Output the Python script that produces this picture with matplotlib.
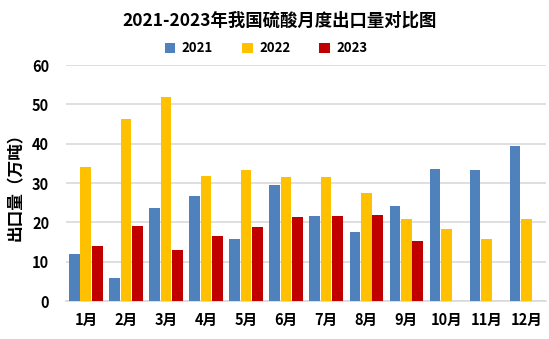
import numpy as np
import matplotlib
matplotlib.use("Agg")
import matplotlib.pyplot as plt

plt.rcParams['font.family'] = ['Noto Sans CJK SC', 'DejaVu Sans']

months = ["1月", "2月", "3月", "4月", "5月", "6月",
          "7月", "8月", "9月", "10月", "11月", "12月"]
v2021 = [12.0, 5.9, 23.7, 26.7, 15.8, 29.5, 21.6, 17.6, 24.2, 33.6, 33.3, 39.5]
v2022 = [34.1, 46.3, 51.9, 31.8, 33.3, 31.6, 31.6, 27.5, 20.9, 18.3, 15.8, 20.9]
v2023 = [14.0, 19.1, 13.0, 16.5, 18.8, 21.4, 21.6, 21.9, 15.3, np.nan, np.nan, np.nan]

fig = plt.figure(figsize=(5.49, 3.39), dpi=100)
ax = fig.add_axes([0.120, 0.112, 0.875, 0.696])

x = np.arange(len(months))
w = 0.27
ax.bar(x - 0.28, v2021, w, color="#4F81BD", label="2021", zorder=3)
ax.bar(x, v2022, w, color="#FFC000", label="2022", zorder=3)
ax.bar(x + 0.28, v2023, w, color="#C00000", label="2023", zorder=3)

ax.set_xlim(-0.5, 11.5)
ax.set_ylim(0, 60)
ax.set_yticks(range(0, 61, 10))
ax.set_xticks(x)
ax.set_xticklabels(months, fontsize=10.5, fontweight="bold")
ax.tick_params(axis="y", labelsize=10.5, length=0, pad=12)
ax.tick_params(axis="x", length=0, pad=8)
for lab in ax.get_yticklabels():
    lab.set_fontweight("bold")
ax.yaxis.grid(True, color="#D9D9D9", linewidth=1.2, zorder=0)
for s in ["top", "right", "left"]:
    ax.spines[s].set_visible(False)
ax.spines["bottom"].set_color("#D9D9D9")
ax.spines["bottom"].set_linewidth(1.2)

ax.set_ylabel("出口量（万吨）", fontsize=12, fontweight="bold")
ax.yaxis.set_label_coords(-0.085, 0.5)

fig.text(0.51, 0.94, "2021-2023年我国硫酸月度出口量对比图", ha="center", va="center",
         fontsize=12.5, fontweight="bold")
fig.legend(loc="center", bbox_to_anchor=(0.485, 0.858), ncol=3, frameon=False,
           prop={"weight": "bold", "size": 9.5}, handlelength=0.8, handleheight=0.8,
           columnspacing=2.2, handletextpad=0.5)

fig.savefig("out.png", dpi=100)
